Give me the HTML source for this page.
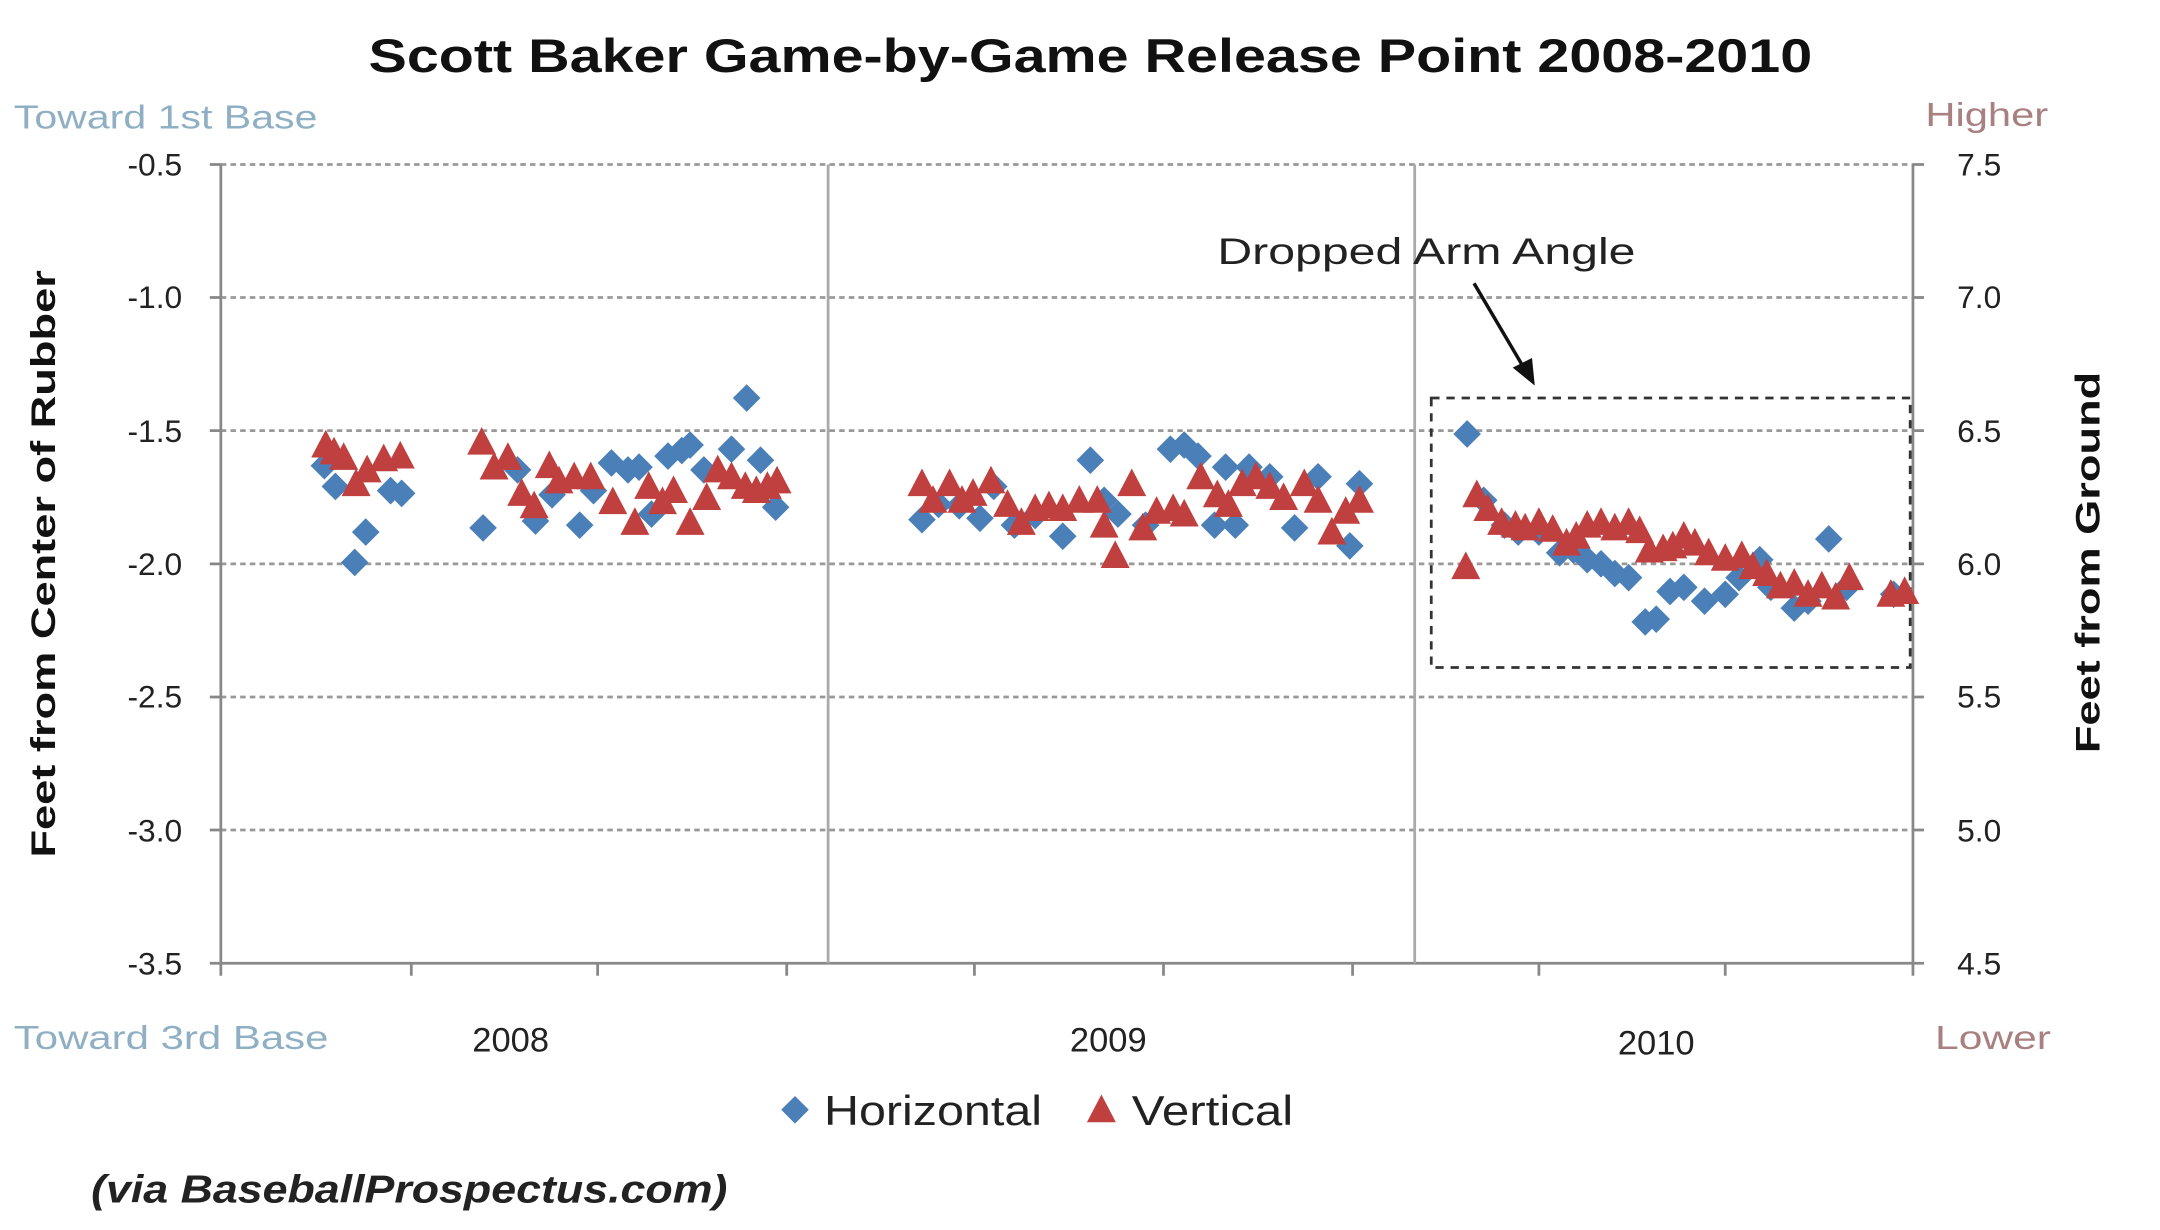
<!DOCTYPE html>
<html><head><style>html,body{margin:0;padding:0;background:#fff;}svg{display:block}</style></head>
<body>
<svg width="2160" height="1230" viewBox="0 0 1565 890" preserveAspectRatio="none" xmlns="http://www.w3.org/2000/svg" font-family="Liberation Sans, sans-serif">
<rect width="1565" height="890" fill="#fff"/>
<text x="790" y="52" font-size="34" font-weight="bold" text-anchor="middle" textLength="1046" lengthAdjust="spacingAndGlyphs" fill="#111">Scott Baker Game-by-Game Release Point 2008-2010</text>
<text x="10" y="93" font-size="24" fill="#8fb0c4" textLength="220" lengthAdjust="spacingAndGlyphs">Toward 1st Base</text>
<text x="1395" y="91" font-size="24" fill="#a88080" textLength="89" lengthAdjust="spacingAndGlyphs">Higher</text>
<text x="10" y="759" font-size="24" fill="#8fb0c4" textLength="228" lengthAdjust="spacingAndGlyphs">Toward 3rd Base</text>
<text x="1402" y="759" font-size="24" fill="#a88080" textLength="84" lengthAdjust="spacingAndGlyphs">Lower</text>
<g stroke="#999" stroke-width="2" stroke-dasharray="4,3">
<line x1="160" y1="119" x2="1386" y2="119"/><line x1="160" y1="215.3" x2="1386" y2="215.3"/><line x1="160" y1="311.6" x2="1386" y2="311.6"/><line x1="160" y1="408" x2="1386" y2="408"/><line x1="160" y1="504.3" x2="1386" y2="504.3"/><line x1="160" y1="600.6" x2="1386" y2="600.6"/>
</g>
<g stroke="#888" stroke-width="2" fill="none">
<line x1="160" y1="119" x2="160" y2="697"/><line x1="1386" y1="119" x2="1386" y2="697"/><line x1="152" y1="697" x2="1394" y2="697"/>
<line x1="600" y1="119" x2="600" y2="697" stroke="#aaa"/><line x1="1025" y1="119" x2="1025" y2="697" stroke="#aaa"/>
<path d="M152 119h8M152 215.3h8M152 311.6h8M152 408h8M152 504.3h8M152 600.6h8M1386 119h8M1386 215.3h8M1386 311.6h8M1386 408h8M1386 504.3h8M1386 600.6h8M160 697v9M298 697v9M433 697v9M570 697v9M706 697v9M843 697v9M980 697v9M1115 697v9M1250 697v9M1386 697v9"/>
</g>
<g font-size="23" fill="#222" text-anchor="end">
<text x="132" y="127">-0.5</text><text x="132" y="223">-1.0</text><text x="132" y="320">-1.5</text><text x="132" y="416">-2.0</text><text x="132" y="512">-2.5</text><text x="132" y="609">-3.0</text><text x="132" y="705">-3.5</text>
</g>
<g font-size="23" fill="#222">
<text x="1418" y="127">7.5</text><text x="1418" y="223">7.0</text><text x="1418" y="320">6.5</text><text x="1418" y="416">6.0</text><text x="1418" y="512">5.5</text><text x="1418" y="609">5.0</text><text x="1418" y="705">4.5</text>
</g>
<g font-size="25" fill="#222" text-anchor="middle">
<text x="370" y="761">2008</text><text x="803" y="761">2009</text><text x="1200" y="763">2010</text>
</g>
<text transform="translate(40,408) rotate(-90)" font-size="25" font-weight="bold" text-anchor="middle" fill="#111" textLength="425" lengthAdjust="spacingAndGlyphs">Feet from Center of Rubber</text>
<text transform="translate(1521,407) rotate(-90)" font-size="25" font-weight="bold" text-anchor="middle" fill="#111" textLength="276" lengthAdjust="spacingAndGlyphs">Feet from Ground</text>
<rect x="1037" y="288" width="347" height="195" fill="none" stroke="#333" stroke-width="2" stroke-dasharray="6,5"/>
<text x="882" y="191" font-size="27" fill="#222" textLength="303" lengthAdjust="spacingAndGlyphs">Dropped Arm Angle</text>
<line x1="1068" y1="205" x2="1104" y2="266" stroke="#111" stroke-width="2.5"/>
<polygon points="1112,279 1096,266 1110,259" fill="#111"/>
<defs>
<path id="d" d="M0,-10L10,0L0,10L-10,0Z" fill="#4a7fb8"/>
<path id="t" d="M0,-11L10.5,9L-10.5,9Z" fill="#c0403f"/>
</defs>
<g>
<use href="#d" x="235" y="337"/><use href="#d" x="243" y="352"/><use href="#d" x="257" y="407"/><use href="#d" x="265" y="385"/><use href="#d" x="283" y="355"/><use href="#d" x="291" y="357"/>
<use href="#d" x="350" y="382"/><use href="#d" x="375" y="340"/><use href="#d" x="388" y="377"/><use href="#d" x="400" y="358"/><use href="#d" x="420" y="380"/><use href="#d" x="430" y="355"/><use href="#d" x="443" y="335"/><use href="#d" x="455" y="340"/><use href="#d" x="463" y="338"/><use href="#d" x="472" y="372"/><use href="#d" x="484" y="330"/><use href="#d" x="494" y="326"/><use href="#d" x="500" y="322"/><use href="#d" x="510" y="340"/><use href="#d" x="530" y="325"/><use href="#d" x="541" y="288"/><use href="#d" x="551" y="333"/><use href="#d" x="562" y="367"/>
<use href="#d" x="668" y="376"/><use href="#d" x="680" y="365"/><use href="#d" x="695" y="366"/><use href="#d" x="710" y="375"/><use href="#d" x="720" y="352"/><use href="#d" x="735" y="380"/><use href="#d" x="750" y="373"/><use href="#d" x="770" y="388"/><use href="#d" x="790" y="333"/><use href="#d" x="800" y="362"/><use href="#d" x="810" y="372"/><use href="#d" x="830" y="380"/><use href="#d" x="848" y="325"/><use href="#d" x="858" y="322"/><use href="#d" x="868" y="330"/><use href="#d" x="880" y="380"/><use href="#d" x="888" y="338"/><use href="#d" x="895" y="380"/><use href="#d" x="905" y="338"/><use href="#d" x="920" y="345"/><use href="#d" x="938" y="382"/><use href="#d" x="955" y="345"/><use href="#d" x="978" y="395"/><use href="#d" x="985" y="350"/>
<use href="#d" x="1063" y="314"/><use href="#d" x="1075" y="362"/><use href="#d" x="1090" y="380"/><use href="#d" x="1100" y="385"/><use href="#d" x="1115" y="385"/><use href="#d" x="1130" y="400"/><use href="#d" x="1140" y="398"/><use href="#d" x="1150" y="405"/><use href="#d" x="1160" y="408"/><use href="#d" x="1170" y="415"/><use href="#d" x="1180" y="418"/><use href="#d" x="1192" y="450"/><use href="#d" x="1200" y="448"/><use href="#d" x="1210" y="428"/><use href="#d" x="1220" y="425"/><use href="#d" x="1235" y="435"/><use href="#d" x="1250" y="430"/><use href="#d" x="1260" y="418"/><use href="#d" x="1275" y="405"/><use href="#d" x="1283" y="425"/><use href="#d" x="1300" y="440"/><use href="#d" x="1310" y="435"/><use href="#d" x="1325" y="390"/><use href="#d" x="1338" y="425"/><use href="#d" x="1372" y="430"/>
</g>
<g>
<use href="#t" x="236" y="322"/><use href="#t" x="242" y="327"/><use href="#t" x="249" y="331"/><use href="#t" x="258" y="350"/><use href="#t" x="266" y="340"/><use href="#t" x="278" y="332"/><use href="#t" x="290" y="330"/>
<use href="#t" x="349" y="320"/><use href="#t" x="358" y="338"/><use href="#t" x="368" y="331"/><use href="#t" x="378" y="357"/><use href="#t" x="387" y="366"/><use href="#t" x="398" y="337"/><use href="#t" x="405" y="348"/><use href="#t" x="416" y="345"/><use href="#t" x="428" y="345"/><use href="#t" x="444" y="363"/><use href="#t" x="460" y="378"/><use href="#t" x="470" y="352"/><use href="#t" x="480" y="363"/><use href="#t" x="488" y="355"/><use href="#t" x="500" y="378"/><use href="#t" x="512" y="360"/><use href="#t" x="520" y="340"/><use href="#t" x="530" y="345"/><use href="#t" x="540" y="352"/><use href="#t" x="548" y="355"/><use href="#t" x="556" y="352"/><use href="#t" x="563" y="348"/>
<use href="#t" x="668" y="350"/><use href="#t" x="676" y="362"/><use href="#t" x="688" y="350"/><use href="#t" x="697" y="362"/><use href="#t" x="705" y="357"/><use href="#t" x="718" y="348"/><use href="#t" x="730" y="365"/><use href="#t" x="740" y="378"/><use href="#t" x="750" y="368"/><use href="#t" x="760" y="366"/><use href="#t" x="770" y="368"/><use href="#t" x="782" y="362"/><use href="#t" x="795" y="362"/><use href="#t" x="800" y="380"/><use href="#t" x="808" y="402"/><use href="#t" x="820" y="350"/><use href="#t" x="828" y="382"/><use href="#t" x="838" y="370"/><use href="#t" x="850" y="368"/><use href="#t" x="858" y="372"/><use href="#t" x="870" y="345"/><use href="#t" x="882" y="358"/><use href="#t" x="890" y="365"/><use href="#t" x="900" y="350"/><use href="#t" x="910" y="345"/><use href="#t" x="920" y="352"/><use href="#t" x="930" y="360"/><use href="#t" x="945" y="350"/><use href="#t" x="955" y="362"/><use href="#t" x="965" y="385"/><use href="#t" x="975" y="370"/><use href="#t" x="985" y="362"/>
<use href="#t" x="1062" y="410"/><use href="#t" x="1070" y="358"/><use href="#t" x="1078" y="368"/><use href="#t" x="1088" y="378"/><use href="#t" x="1098" y="380"/><use href="#t" x="1105" y="382"/><use href="#t" x="1115" y="378"/><use href="#t" x="1125" y="383"/><use href="#t" x="1135" y="393"/><use href="#t" x="1142" y="388"/><use href="#t" x="1150" y="380"/><use href="#t" x="1160" y="378"/><use href="#t" x="1170" y="382"/><use href="#t" x="1180" y="378"/><use href="#t" x="1188" y="384"/><use href="#t" x="1195" y="398"/><use href="#t" x="1205" y="397"/><use href="#t" x="1212" y="395"/><use href="#t" x="1220" y="388"/><use href="#t" x="1228" y="393"/><use href="#t" x="1238" y="400"/><use href="#t" x="1250" y="404"/><use href="#t" x="1262" y="402"/><use href="#t" x="1270" y="410"/><use href="#t" x="1280" y="415"/><use href="#t" x="1290" y="424"/><use href="#t" x="1300" y="422"/><use href="#t" x="1310" y="430"/><use href="#t" x="1320" y="424"/><use href="#t" x="1330" y="432"/><use href="#t" x="1340" y="418"/><use href="#t" x="1370" y="430"/><use href="#t" x="1380" y="428"/>
</g>
<use href="#d" x="576" y="803"/>
<text x="597" y="814" font-size="30" fill="#222" textLength="158" lengthAdjust="spacingAndGlyphs">Horizontal</text>
<use href="#t" x="798" y="803"/>
<text x="820" y="814" font-size="30" fill="#222" textLength="117" lengthAdjust="spacingAndGlyphs">Vertical</text>
<text x="66" y="870" font-size="28" font-style="italic" font-weight="bold" fill="#222" textLength="461" lengthAdjust="spacingAndGlyphs">(via BaseballProspectus.com)</text>
</svg>
</body></html>
